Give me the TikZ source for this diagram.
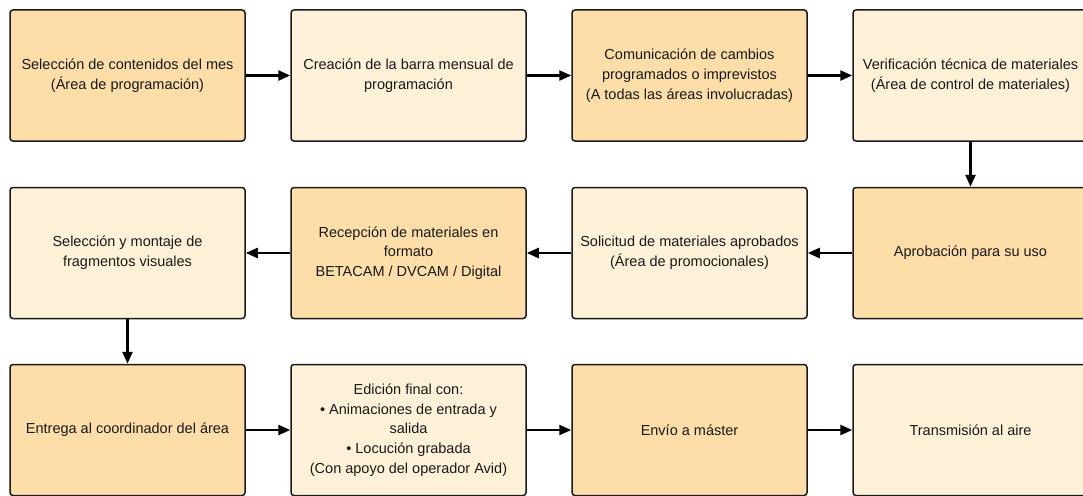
\documentclass[tikz,border=0pt]{standalone}
\usepackage{fontspec}
\setmainfont{Liberation Sans}
\usetikzlibrary{arrows.meta}
\definecolor{darkfill}{HTML}{FDDEA8}
\definecolor{lightfill}{HTML}{FEF1D8}
\definecolor{edge}{HTML}{1A1A1A}
\tikzset{
  box/.style={draw=edge, line width=1.5pt, rounded corners=3pt, minimum width=235pt, minimum height=131pt, align=center, font=\fontsize{14.5}{19.7}\selectfont, text=black!90, inner sep=0pt},
  dbox/.style={box, fill=darkfill},
  lbox/.style={box, fill=lightfill},
  conn/.style={line width=2.4pt, draw=black, -{Triangle[length=12pt,width=10pt]}}
}
\begin{document}
\begin{tikzpicture}[x=1pt,y=-1pt]
\useasboundingbox (0,0) rectangle (1083,495);
\clip (0,0) rectangle (1083,495);
% row 1
\node[dbox] (a1) at (127.5,75.5) {Selección de contenidos del mes\\(Área de programación)};
\node[lbox] (a2) at (408.5,75.5) {Creación de la barra mensual de\\programación};
\node[dbox] (a3) at (689.5,75.5) {Comunicación de cambios\\programados o imprevistos\\(A todas las áreas involucradas)};
\node[lbox] (a4) at (970.5,75.5) {Verificación técnica de materiales\\(Área de control de materiales)};
% row 2
\node[lbox] (b1) at (127.5,253) {Selección y montaje de\\fragmentos visuales};
\node[dbox] (b2) at (408.5,253) {Recepción de materiales en\\formato\\BETACAM / DVCAM / Digital};
\node[lbox] (b3) at (689.5,253) {Solicitud de materiales aprobados\\(Área de promocionales)};
\node[dbox] (b4) at (970.5,253) {Aprobación para su uso};
% row 3
\node[dbox] (c1) at (127.5,430) {Entrega al coordinador del área};
\node[lbox] (c2) at (408.5,430) {Edición final con:\\• Animaciones de entrada y\\salida\\• Locución grabada\\(Con apoyo del operador Avid)};
\node[dbox] (c3) at (689.5,430) {Envío a máster};
\node[lbox] (c4) at (970.5,430) {Transmisión al aire};
% connectors
\draw[conn] (a1) -- (a2);
\draw[conn] (a2) -- (a3);
\draw[conn] (a3) -- (a4);
\draw[conn] (a4) -- (b4);
\draw[conn] (b4) -- (b3);
\draw[conn] (b3) -- (b2);
\draw[conn] (b2) -- (b1);
\draw[conn] (b1) -- (c1);
\draw[conn] (c1) -- (c2);
\draw[conn] (c2) -- (c3);
\draw[conn] (c3) -- (c4);
\end{tikzpicture}
\end{document}
